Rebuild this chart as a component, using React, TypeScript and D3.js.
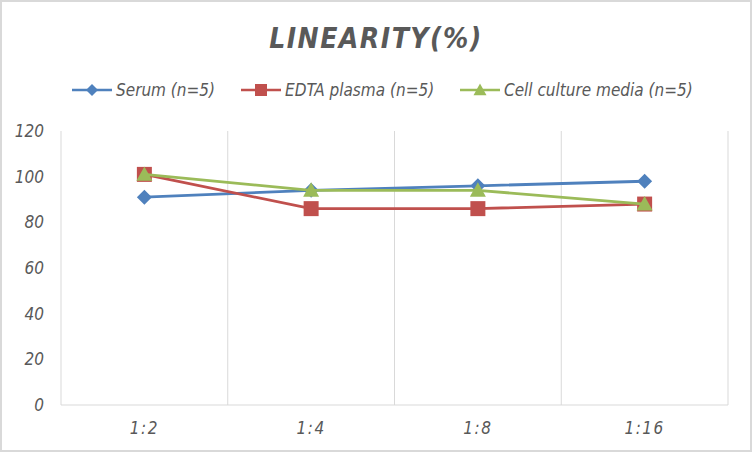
import React from 'react';
import * as d3 from 'd3';

const categories = ['1:2', '1:4', '1:8', '1:16'];
const serum = [91, 94, 96, 98];
const edta = [101, 86, 86, 88];
const cellCulture = [101, 94, 94, 88];
const yTicks = [0, 20, 40, 60, 80, 100, 120];

const series = [
  { name: 'Serum (n=5)', values: serum, color: '#4f81bd', shape: 'diamond' },
  { name: 'EDTA plasma (n=5)', values: edta, color: '#c0504d', shape: 'square' },
  { name: 'Cell culture media (n=5)', values: cellCulture, color: '#9bbb59', shape: 'triangle' },
];

const W = 752;
const H = 452;
const FONT = '"Liberation Sans Narrow", "DejaVu Sans Condensed", "Open Sans", sans-serif';
const TEXT = '#595959';

// marker path centred on 0,0; r is roughly half the width
function marker(shape: string, r: number) {
  if (shape === 'diamond') return `M0,${-r}L${r},0L0,${r}L${-r},0Z`;
  if (shape === 'square') return `M${-r},${-r}H${r}V${r}H${-r}Z`;
  return `M0,${-r}L${r},${r * 0.8}H${-r}Z`;
}

export default function App() {
  const x = d3.scaleBand().domain(categories).range([61, 728]);
  const y = d3.scaleLinear().domain([0, 120]).range([405, 131]);
  const cx = (c: string) => (x(c) as number) + x.bandwidth() / 2;
  const line = d3
    .line<number>()
    .x((_, i) => cx(categories[i]))
    .y((d) => y(d));

  const legendX = [72, 241, 460];
  const plotR = { diamond: 7.5, square: 7.5, triangle: 8 } as Record<string, number>;
  const legR = { diamond: 6, square: 6, triangle: 6.5 } as Record<string, number>;

  return (
    <svg
      width={W}
      height={H}
      style={{ position: 'absolute', left: 0, top: 0, fontFamily: FONT }}
    >
      <rect x={1} y={1} width={W - 2} height={H - 2} fill="#fff" stroke="#d9d9d9" strokeWidth={2} />
      <text
        x={376}
        y={48}
        textAnchor="middle"
        fontSize={28}
        fontWeight="bold"
        fontStyle="italic"
        letterSpacing={1.5}
        fill={TEXT}
      >
        LINEARITY(%)
      </text>

      {series.map((s, i) => (
        <g key={s.name} transform={`translate(${legendX[i]},90)`}>
          <line x1={0} x2={40} y1={0} y2={0} stroke={s.color} strokeWidth={2.5} />
          <path d={marker(s.shape, legR[s.shape])} transform="translate(20,0)" fill={s.color} />
          <text x={44} y={6} fontSize={17} fontStyle="italic" fill={TEXT}>
            {s.name}
          </text>
        </g>
      ))}

      {categories.slice(1).map((c) => (
        <line
          key={c}
          x1={x(c)}
          x2={x(c)}
          y1={131}
          y2={405}
          stroke="#d9d9d9"
          strokeWidth={1}
        />
      ))}
      <line x1={61} x2={61} y1={131} y2={405} stroke="#d9d9d9" />
      <line x1={728} x2={728} y1={131} y2={405} stroke="#d9d9d9" />
      <line x1={61} x2={728} y1={405} y2={405} stroke="#d9d9d9" />

      {yTicks.map((t) => (
        <text
          key={t}
          x={44}
          y={y(t) + 6}
          textAnchor="end"
          fontSize={17}
          fontStyle="italic"
          fill={TEXT}
        >
          {t}
        </text>
      ))}
      {categories.map((c) => (
        <text
          key={c}
          x={cx(c)}
          y={434}
          textAnchor="middle"
          fontSize={17}
          fontStyle="italic"
          letterSpacing={1.5}
          fill={TEXT}
        >
          {c}
        </text>
      ))}

      {series.map((s) => (
        <g key={s.name}>
          <path d={line(s.values) as string} fill="none" stroke={s.color} strokeWidth={2.8} />
          {s.values.map((v, i) => (
            <path
              key={i}
              d={marker(s.shape, plotR[s.shape])}
              transform={`translate(${cx(categories[i])},${y(v)})`}
              fill={s.color}
            />
          ))}
        </g>
      ))}
    </svg>
  );
}
